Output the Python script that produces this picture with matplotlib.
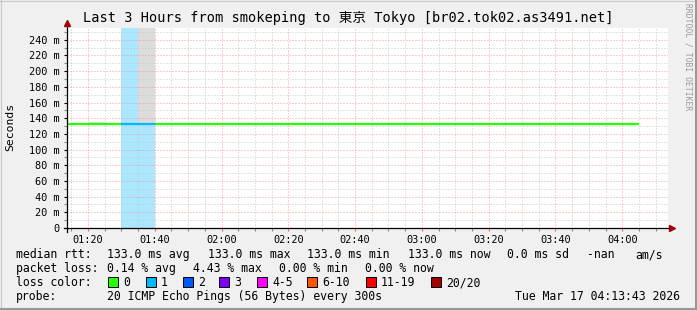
import matplotlib
matplotlib.use("Agg")
import matplotlib.pyplot as plt
from matplotlib.patches import Rectangle
from matplotlib.lines import Line2D

W, H = 697, 310

# --- data (5 minute steps) ---
step_start = ["01:10", "01:15", "01:20", "01:25", "01:30", "01:35", "01:40", "01:45",
              "01:50", "01:55", "02:00", "02:05", "02:10", "02:15", "02:20", "02:25",
              "02:30", "02:35", "02:40", "02:45", "02:50", "02:55", "03:00", "03:05",
              "03:10", "03:15", "03:20", "03:25", "03:30", "03:35", "03:40", "03:45",
              "03:50", "03:55", "04:00"]
median_ms = [133.0, 133.0, 133.0, 133.0, 133.0, 133.0, 133.0, 133.0, 133.0, 133.0,
             133.0, 133.0, 133.0, 133.0, 133.0, 133.0, 133.0, 133.0, 133.0, 133.0,
             133.0, 133.0, 133.0, 133.0, 133.0, 133.0, 133.0, 133.0, 133.0, 133.0,
             133.0, 133.0, 133.0, 133.0, 133.0]
lost = [0, 0, 0, 0, 1, 1, 0, 0, 0, 0, 0, 0, 0, 0, 0, 0, 0, 0, 0, 0, 0, 0, 0, 0, 0,
        0, 0, 0, 0, 0, 0, 0, 0, 0, 0]
# smoke (step, low, high) in ms
smoke_steps = ["01:20", "01:35"]
smoke_low = [133.0, 133.0]
smoke_high = [135.5, 300.0]

loss_labels = ["0", "1", "2", "3", "4-5", "6-10", "11-19", "20/20"]
loss_colors = ["#26ff00", "#00b8ff", "#0059ff", "#7e00ff", "#ff00ff", "#ff5500", "#ff0000", "#a10000"]

t_start, t_end = "01:13:43", "04:13:43"
y_ticks = [0, 20, 40, 60, 80, 100, 120, 140, 160, 180, 200, 220, 240]
x_ticks = ["01:20", "01:40", "02:00", "02:20", "02:40", "03:00", "03:20", "03:40", "04:00"]


def tmin(s):
    p = [int(v) for v in s.split(":")]
    return p[0] * 60 + p[1] + (p[2] / 60 if len(p) > 2 else 0)


def loss_idx(n):
    if n == 0:
        return 0
    if n <= 3:
        return n
    if n <= 5:
        return 4
    if n <= 10:
        return 5
    if n <= 19:
        return 6
    return 7


def px(x, y):
    return x / W, 1 - y / H


mono = "DejaVu Sans Mono"
fig = plt.figure(figsize=(W / 100, H / 100), dpi=100, facecolor="#f0f0f0")
L, R, T, B = 67, 668, 28, 228
ax = fig.add_axes([L / W, 1 - B / H, (R - L) / W, (B - T) / H])
ax.set_facecolor("white")

x0, x1 = tmin(t_start), tmin(t_end)
ax.set_xlim(x0, x1)
ax.set_ylim(0, 255)

step = 5
for s, n in zip(step_start, lost):
    if n > 0:
        t = tmin(s)
        ax.axvspan(t, t + step, color=loss_colors[loss_idx(n)], alpha=0.33, lw=0, zorder=1)

for s, lo, hi in zip(smoke_steps, smoke_low, smoke_high):
    t = tmin(s)
    ax.add_patch(Rectangle((t, lo), step, hi - lo, color="#dcdcdc", lw=0, zorder=1.5))

for s, m, n in zip(step_start, median_ms, lost):
    t = tmin(s)
    ax.hlines(m, t, t + step, color=loss_colors[loss_idx(n)], lw=1.6, zorder=4,
              capstyle="butt")

# grid
ax.set_yticks(y_ticks)
ax.set_yticklabels(["0" if v == 0 else "%d m" % v for v in y_ticks])
ax.set_yticks(list(range(10, 255, 20)), minor=True)
xt = [tmin(s) for s in x_ticks]
ax.set_xticks(xt)
ax.set_xticklabels(x_ticks)
ax.set_xticks([v for v in range(75, 255, 5) if v % 20 != 0], minor=True)
ax.grid(which="minor", color="#c8c8c8", lw=0.72, ls=(0, (1, 2)), zorder=2.5)
ax.grid(which="major", color="#ff8080", alpha=0.8, lw=0.72, ls=(0, (1, 2)), zorder=2.5)
ax.set_axisbelow(False)

ax.tick_params(axis="both", which="major", labelsize=7.4, length=2.5, width=0.8,
               direction="out", pad=3)
ax.tick_params(axis="y", which="minor", length=2, width=0.8, direction="out", color="#888888")
ax.tick_params(axis="x", which="minor", length=2, width=0.8, direction="out", color="#888888")
ax.tick_params(axis="x", which="major", color="#ff6060", pad=2.5)
for lab in ax.get_xticklabels() + ax.get_yticklabels():
    lab.set_family(mono)
for sp in ax.spines.values():
    sp.set_visible(False)

# axes lines with arrows
ax.add_line(Line2D([-3 / 601, 1 + 2 / 601], [0, 0], transform=ax.transAxes, color="black",
                   lw=0.9, clip_on=False, zorder=5))
ax.add_line(Line2D([0, 0], [-4 / 200, 1 + 3 / 200], transform=ax.transAxes, color="black",
                   lw=0.9, clip_on=False, zorder=5))
ax.plot([1 + 4 / 601], [0], transform=ax.transAxes, marker=">", ms=4, color="#a00000",
        clip_on=False, zorder=6)
ax.plot([0], [1 + 5 / 200], transform=ax.transAxes, marker="^", ms=4, color="#a00000",
        clip_on=False, zorder=6)

# title & labels
fig.text(*px(348, 18), "Last 3 Hours from smokeping to 東京 Tokyo [br02.tok02.as3491.net]",
         ha="center", va="center", fontsize=9.8, family=[mono, "Noto Sans CJK JP"])
fig.text(*px(10, 127), "Seconds", rotation=90, ha="center", va="center", fontsize=8.2,
         family=mono)
fig.text(*px(688, 57), "RRDTOOL / TOBI OETIKER", rotation=270, ha="center", va="center",
         fontsize=5.8, family=mono, color="#999999")

# legend
fs = 8.3
row1 = [(16, "median rtt:"), (107, "133.0 ms avg"), (208, "133.0 ms max"), (307, "133.0 ms min"),
        (408, "133.0 ms now"), (507, "0.0 ms sd"), (587, "-nan"), (635, "am/s")]
row2 = [(16, "packet loss:"), (107, "0.14 % avg"), (193, "4.43 % max"), (279, "0.00 % min"),
        (365, "0.00 % now")]
for y, row in [(258, row1), (272, row2)]:
    for x, s in row:
        fig.text(*px(x, y), s, fontsize=fs, family=mono, va="baseline")

fig.text(*px(16, 286), "loss color:", fontsize=fs, family=mono, va="baseline")
box_x = [108, 146, 183, 219, 257, 307, 366, 431]
for bx, lab, c in zip(box_x, loss_labels, loss_colors):
    fig.patches.append(Rectangle(px(bx, 287), 10 / W, 10 / H, transform=fig.transFigure,
                                 facecolor=c, edgecolor="black", lw=0.7))
    fig.text(*px(bx + 15, 286), lab, fontsize=fs, family=mono, va="baseline")

fig.text(*px(16, 300), "probe:", fontsize=fs, family=mono, va="baseline")
fig.text(*px(107, 300), "20 ICMP Echo Pings (56 Bytes) every 300s", fontsize=fs, family=mono,
         va="baseline")
fig.text(*px(680, 300), "Tue Mar 17 04:13:43 2026", fontsize=fs, family=mono, va="baseline",
         ha="right")

# frame shading
fig.add_artist(Line2D([0, 1], [1 - 0.5 / H, 1 - 0.5 / H], transform=fig.transFigure, color="#cbcbcb", lw=0.9))
fig.add_artist(Line2D([0.5 / W, 0.5 / W], [0, 1], transform=fig.transFigure, color="#cbcbcb", lw=0.9))
fig.add_artist(Line2D([0, 1], [1 / H, 1 / H], transform=fig.transFigure, color="#999999", lw=1.5))
fig.add_artist(Line2D([1 - 1 / W, 1 - 1 / W], [0, 1], transform=fig.transFigure, color="#999999", lw=1.5))

fig.savefig("out.png", dpi=100, facecolor=fig.get_facecolor())
